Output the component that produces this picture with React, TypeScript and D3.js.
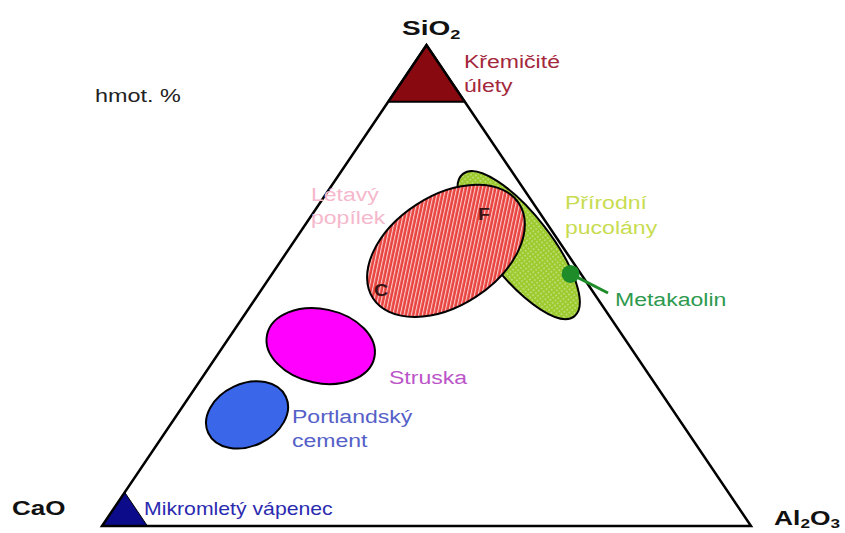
import React from "react";
import * as d3 from "d3";

// Ternary apex labels
const apexNames = ["SiO", "CaO", "Al"];

// Regions as ellipses: centre composition [SiO2, CaO, Al2O3] in %, semi-axes in %, rotation in degrees
const regionNames = ["Přírodní pucolány", "Létavý popílek", "Struska", "Portlandský cement"];
const regionSiO2 = [58.4, 57.2, 37.4, 23.1];
const regionCaO = [6.6, 18.4, 47.6, 66.1];
const regionAl2O3 = [35.0, 24.4, 15.0, 10.8];
const regionMajor = [18.8, 18.1, 11.4, 8.9];
const regionMinor = [6.6, 11.4, 7.7, 6.5];
const regionAngle = [52, -33, 12, -25];
const regionFill = ["url(#dotsGreen)", "url(#hatchRed)", "#ff00ff", "#3a66ea"];

// Corner regions: apex composition threshold (%)
const silicaFumeMinSiO2 = 88.2;
const limestoneMinCaO = 93.0;

// Metakaolin point [SiO2, CaO, Al2O3]
const metakaolin = [52.4, 1.6, 46.0];

const W = 845;
const H = 533;

const FONT = "'Liberation Sans', Arial, Helvetica, sans-serif";

function Label(props: {
  x: number;
  y: number;
  size: number;
  sx: number;
  fill: string;
  bold?: boolean;
  children: React.ReactNode;
}) {
  const { x, y, size, sx, fill, bold, children } = props;
  return (
    <text
      transform={`translate(${x},${y}) scale(${sx},1)`}
      fontSize={size}
      fontWeight={bold ? "bold" : "normal"}
      fill={fill}
      fontFamily={FONT}
    >
      {children}
    </text>
  );
}

export default function App() {
  const xs = d3.scaleLinear().domain([0, 1]).range([102, 751]);
  const ys = d3.scaleLinear().domain([0, 1]).range([526, 45]);
  const pxPerUnit = Math.abs(ys(1) - ys(0)) / 100;

  // ternary (%) -> pixel
  const proj = (si: number, ca: number, al: number): [number, number] => {
    const s = si + ca + al;
    const a = si / s;
    const c = al / s;
    return [xs(c + a * 0.5), ys(a)];
  };

  const A = proj(100, 0, 0);
  const B = proj(0, 100, 0);
  const C = proj(0, 0, 100);
  const line = d3.line();

  const sfA = proj(100, 0, 0);
  const sfB = proj(silicaFumeMinSiO2, 100 - silicaFumeMinSiO2, 0);
  const sfC = proj(silicaFumeMinSiO2, 0, 100 - silicaFumeMinSiO2);
  const lsA = proj(100 - limestoneMinCaO, limestoneMinCaO, 0);
  const lsB = proj(0, 100, 0);
  const lsC = proj(0, limestoneMinCaO, 100 - limestoneMinCaO);

  const mk = proj(metakaolin[0], metakaolin[1], metakaolin[2]);

  const RS = 1.28; // horizontal stretch of region labels

  return (
    <svg width={W} height={H} style={{ position: "absolute", left: 0, top: 0, background: "#fff" }} fontFamily={FONT}>
      <defs>
        <pattern id="hatchRed" width="3.6" height="3.6" patternUnits="userSpaceOnUse" patternTransform="rotate(45)">
          <rect width="3.6" height="3.6" fill="#e8433f" />
          <line x1="0.6" y1="0" x2="0.6" y2="3.6" stroke="#ffffff" strokeWidth="0.95" strokeOpacity="0.85" />
        </pattern>
        <pattern id="dotsGreen" width="3.6" height="3.6" patternUnits="userSpaceOnUse">
          <rect width="3.6" height="3.6" fill="#9dcb2e" />
          <circle cx="1.8" cy="1.8" r="0.75" fill="#ffffff" fillOpacity="0.7" />
        </pattern>
      </defs>

      {/* regions */}
      {regionNames.map((n, i) => {
        const [cx, cy] = proj(regionSiO2[i], regionCaO[i], regionAl2O3[i]);
        return (
          <ellipse
            key={n}
            cx={cx}
            cy={cy}
            rx={regionMajor[i] * pxPerUnit}
            ry={regionMinor[i] * pxPerUnit}
            transform={`rotate(${regionAngle[i]} ${cx} ${cy})`}
            fill={regionFill[i]}
            stroke="#000"
            strokeWidth={2}
          />
        );
      })}

      {/* corner regions */}
      <path d={line([sfA, sfB, sfC])! + "Z"} fill="#880a10" stroke="#000" strokeWidth={2} />
      <path d={line([lsA, lsB, lsC])! + "Z"} fill="#0c0c8a" stroke="#000" strokeWidth={1} />

      {/* triangle */}
      <path d={line([A, B, C])! + "Z"} fill="none" stroke="#000" strokeWidth={2.5} strokeLinejoin="miter" />

      {/* metakaolin */}
      <line x1={mk[0]} y1={mk[1]} x2={608} y2={293} stroke="#1e8c28" strokeWidth={3} />
      <circle cx={mk[0]} cy={mk[1]} r={9} fill="#1e8c28" />

      {/* letters in fly ash */}
      <Label x={478} y={220} size={17} sx={1.15} fill="#3a1414" bold>F</Label>
      <Label x={374} y={296} size={17} sx={1.15} fill="#3a1414" bold>C</Label>

      {/* apex labels */}
      <Label x={402} y={35} size={20} sx={1.4} fill="#111" bold>
        {apexNames[0]}<tspan fontSize={13} dy={4}>2</tspan>
      </Label>
      <Label x={12} y={515} size={20} sx={1.3} fill="#111" bold>{apexNames[1]}</Label>
      <Label x={774} y={525} size={20} sx={1.32} fill="#111" bold>
        {apexNames[2]}<tspan fontSize={13} dy={3}>2</tspan><tspan dy={-3}>O</tspan><tspan fontSize={13} dy={3}>3</tspan>
      </Label>

      <Label x={95} y={102} size={18} sx={1.3} fill="#222">hmot. %</Label>

      {/* region labels */}
      <Label x={464} y={68} size={18} sx={RS} fill="#a3283c">Křemičité</Label>
      <Label x={464} y={92} size={18} sx={RS} fill="#a3283c">úlety</Label>

      <Label x={311} y={201} size={18} sx={RS} fill="#f5b8cc">Létavý</Label>
      <Label x={311} y={224} size={18} sx={RS} fill="#f5b8cc">popílek</Label>

      <Label x={565} y={209} size={18} sx={RS} fill="#c8dc50">Přírodní</Label>
      <Label x={565} y={234} size={18} sx={RS} fill="#c8dc50">pucolány</Label>

      <Label x={615} y={306} size={18} sx={RS} fill="#2e9a50">Metakaolin</Label>

      <Label x={389} y={384} size={18} sx={RS} fill="#bb55c8">Struska</Label>

      <Label x={292} y={423} size={18} sx={RS} fill="#5560c8">Portlandský</Label>
      <Label x={292} y={447} size={18} sx={RS} fill="#5560c8">cement</Label>

      <Label x={144} y={515} size={18} sx={1.18} fill="#2a2ab0">Mikromletý vápenec</Label>
    </svg>
  );
}
